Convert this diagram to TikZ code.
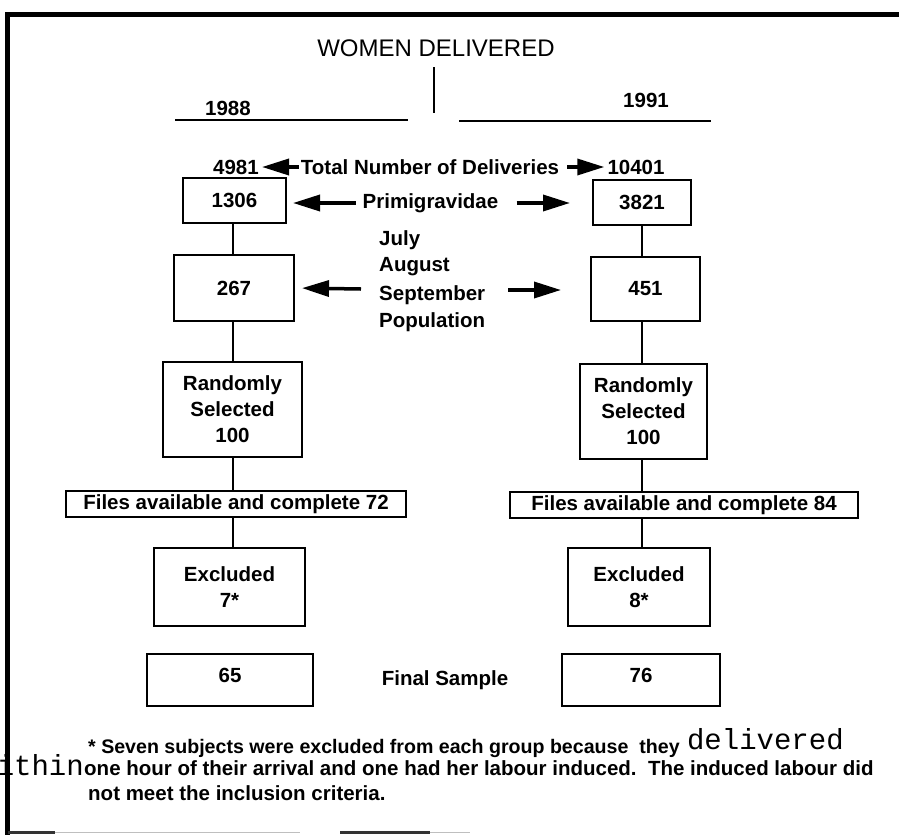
\documentclass[tikz,border=0pt]{standalone}
\usepackage{fontspec}
\setmainfont{Liberation Sans}
\newfontfamily\monofam{Liberation Mono}
\usetikzlibrary{arrows.meta}
\begin{document}
\begin{tikzpicture}[x=1pt,y=-1pt,
  txt/.style={font=\fontsize{20.5}{26}\selectfont\bfseries, inner sep=0pt, align=center},
  mtxt/.style={font=\fontsize{29}{29}\selectfont\monofam, inner sep=0pt},
  box/.style={draw, line width=2pt, inner sep=0pt, align=center, font=\fontsize{20.5}{26}\selectfont\bfseries},
  conn/.style={line width=1.6pt},
  arr/.style={line width=3.5pt, -{Triangle[length=27pt,width=16pt]}},
  rule/.style={line width=2.2pt},
]
\useasboundingbox[fill=white] (0,0) rectangle (899,835);

% title and year header
\node[font=\fontsize{24}{28}\selectfont, inner sep=0pt] (title) at (436,48) {WOMEN DELIVERED};
\coordinate (vtop) at (434,67);
\coordinate (vbot) at (434,113);
\draw[rule] (vtop) -- (vbot);
\node[txt] (y88) at (228,108) {1988};
\node[txt] (y91) at (646,100) {1991};
\coordinate (l1) at (175,120); \coordinate (l2) at (408,120);
\coordinate (r1) at (459,121); \coordinate (r2) at (711,121);
\draw[rule] (l1) -- (l2);
\draw[rule] (r1) -- (r2);

% total row
\node[txt] (n4981) at (236,167) {4981};
\node[txt] (total) at (430,167) {Total Number of Deliveries};
\node[txt] (n10401) at (636,167) {10401};
\draw[arr, shorten >=3pt, shorten <=2pt] (total.west) -- (n4981.east);
\draw[arr, shorten >=3pt, shorten <=8pt] (total.east) -- (n10401.west);

% primigravidae row
\node[box, minimum width=103pt, minimum height=45pt] (b1306) at (234.5,200.5) {1306};
\node[box, minimum width=98pt, minimum height=45pt] (b3821) at (642,202.5) {3821};
\node[txt] (prim) at (430.5,203) {Primigravidae};
\draw[arr, shorten >=6pt, shorten <=7pt] (prim.west) -- (b1306.east |- prim.west);
\draw[arr, shorten >=22pt, shorten <=18pt] (prim.east) -- (b3821.west |- prim.east);

% months
\node[txt, anchor=west] (m1) at (379,240) {July};
\node[txt, anchor=west] (m2) at (379,267) {August};
\node[txt, anchor=west] (m3) at (379,295) {September};
\node[txt, anchor=west] (m4) at (379,322) {Population};
\node[box, minimum width=120pt, minimum height=66pt] (b267) at (234,288) {267};
\node[box, minimum width=109pt, minimum height=64pt] (b451) at (645.5,289) {451};
\coordinate (la) at (361,289);
\coordinate (ra) at (508,290);
\draw[arr, shorten >=7pt] (la) -- (b267.east);
\draw[arr, shorten >=29pt] (ra) -- (b451.west |- ra);

% randomly selected
\node[box, minimum width=139pt, minimum height=95pt] (randL) at (232.5,409.5) {Randomly\\Selected\\100};
\node[box, minimum width=127pt, minimum height=95pt] (randR) at (643.5,411.5) {Randomly\\Selected\\100};

% files
\node[box, minimum width=340pt, minimum height=26pt] (filesL) at (236,504) {Files available and complete 72};
\node[box, minimum width=348pt, minimum height=26pt] (filesR) at (684,505) {Files available and complete 84};

% excluded
\node[box, minimum width=151pt, minimum height=78pt] (exclL) at (229.5,587) {Excluded\\7*};
\node[box, minimum width=142pt, minimum height=78pt] (exclR) at (639,587) {Excluded\\8*};

% final sample
\node[box, minimum width=166pt, minimum height=52pt, text depth=10pt] (finL) at (230,680) {65};
\node[box, minimum width=158pt, minimum height=52pt, text depth=10pt] (finR) at (641,680) {76};
\node[txt] (final) at (445,680) {Final Sample};

% connectors
\coordinate (cxL) at (233,0);
\coordinate (cxR) at (642,0);
\draw[conn] (cxL |- b1306.south) -- (cxL |- b267.north);
\draw[conn] (cxL |- b267.south) -- (cxL |- randL.north);
\draw[conn] (cxL |- randL.south) -- (cxL |- filesL.north);
\draw[conn] (cxL |- filesL.south) -- (cxL |- exclL.north);
\draw[conn] (cxR |- b3821.south) -- (cxR |- b451.north);
\draw[conn] (cxR |- b451.south) -- (cxR |- randR.north);
\draw[conn] (cxR |- randR.south) -- (cxR |- filesR.north);
\draw[conn] (cxR |- filesR.south) -- (cxR |- exclR.north);

% footnote
\node[txt, anchor=base west, font=\fontsize{19.6}{24}\selectfont\bfseries] (fn1) at (88,753) {* Seven subjects were excluded from each group because\ \ they};
\node[mtxt, anchor=base west] (deliv) at ([xshift=7pt,yshift=4pt]fn1.base east) {delivered};
\node[txt, anchor=base west] (fn2) at (84,775) {one hour of their arrival and one had her labour induced.\ \ The induced labour did};
\node[mtxt, anchor=base east] (within) at (fn2.base west) {within};
\node[txt, anchor=base west] (fn3) at (88,800) {not meet the inclusion criteria.};

% frame
\draw[line width=5pt] (5,14.5) -- (899,14.5);
\draw[line width=5pt] (7.5,12) -- (7.5,835);
\draw[line width=3pt, black!80] (8,832) -- (55,832);
\draw[line width=0.8pt, black!25] (55,832) -- (300,832);
\draw[line width=3pt, black!80] (340,832) -- (430,832);
\draw[line width=0.8pt, black!25] (430,832) -- (470,832);
\end{tikzpicture}
\end{document}
